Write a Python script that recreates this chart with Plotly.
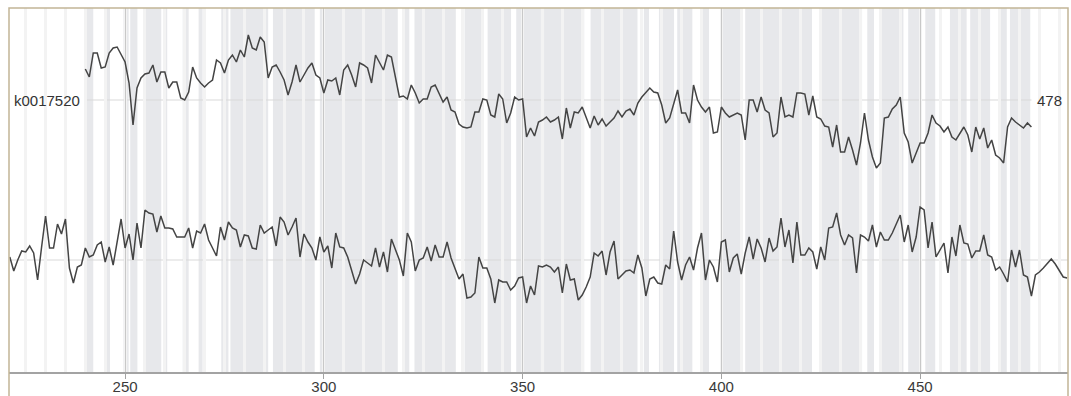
import plotly.graph_objects as go

# ---- data ----
top_start = 240
top_vals = [
    31, 23, 47, 47, 32, 33, 47, 52, 53, 45,
    38, 17, -25, 12, 22, 26, 27, 35, 18, 28,
    28, 12, 18, 18, 2, 0, 8, 33, 22, 17,
    13, 17, 20, 40, 37, 27, 40, 45, 38, 50,
    43, 65, 52, 50, 63, 58, 22, 33, 35, 28,
    20, 5, 18, 35, 18, 25, 32, 37, 25, 22,
    7, 20, 19, 22, 5, 30, 35, 25, 13, 37,
    35, 32, 17, 45, 37, 30, 45, 43, 23, 3,
    4, 1, 15, 7, -3, 1, 1, 13, 15, 7,
    -2, 3, -10, -12, -24, -27, -28, -27, -12, -12,
    1, 0, -15, -17, 6, 1, -23, -13, 3, 0,
    1, -37, -28, -36, -22, -20, -17, -22, -20, -17,
    -39, -8, -28, -12, -13, -7, -18, -28, -16, -25,
    -19, -26, -22, -18, -11, -17, -11, -9, -15, -3,
    3, 8, 12, 8, 7, -5, -23, -18, -3, 10,
    -13, -13, -23, 15, 0, -7, -12, -7, -33, -32,
    -7, -13, -17, -15, -13, -15, -40, 0, 0, -12,
    3, -10, -13, -37, -33, 3, -17, -15, -17, 7,
    7, 6, -15, 4, -17, -19, -26, -27, -47, -25,
    -52, -52, -37, -50, -65, -43, -13, -40, -57, -68,
    -63, -18, -17, -9, -5, 3, -33, -42, -63, -53,
    -43, -43, -33, -15, -23, -26, -32, -27, -37, -40,
    -33, -27, -35, -52, -27, -39, -28, -48, -40, -55,
    -58, -63, -27, -18, -22, -25, -28, -23, -27,
]

bottom_start = 221
bottom_vals = [
    3, -11, 0, 9, 8, 14, 7, -20, 13, 44,
    12, 12, 36, 26, 41, -8, -23, -7, -5, 12,
    3, 5, 15, 18, -2, 13, -5, 18, 41, 12,
    26, 0, 37, 12, 50, 47, 46, 28, 44, 32,
    32, 31, 23, 23, 23, 32, 12, 29, 27, 36,
    20, 12, 4, 33, 20, 38, 32, 30, 13, 25,
    24, 12, 11, 35, 27, 30, 33, 14, 43, 38,
    25, 33, 42, 3, 26, 18, 12, 0, 23, 8,
    14, -8, 27, 13, 12, 3, -10, -24, -14, 0,
    -3, -6, 12, -7, 8, -12, 21, 10, 0, -16,
    27, 18, -11, 0, 2, 13, -1, 15, 3, 3,
    18, 2, -8, -19, -14, -38, -37, -33, 3, -8,
    -8, -19, -43, -20, -22, -22, -30, -26, -18, -17,
    -43, -26, -35, -6, -7, -5, -7, -12, -7, -33,
    -4, -20, -19, -40, -35, -27, -17, 7, 4, 9,
    -15, 8, 19, -19, -15, -11, -10, -13, 5, -8,
    -36, -19, -17, -23, -24, -5, -9, 29, -2, -20,
    -5, 3, -10, 12, 27, -20, 0, -7, -22, 18,
    20, -12, 2, 6, -14, 7, 23, 1, 21, 12,
    -2, 22, 9, 13, 42, 13, 30, -3, 38, 5,
    5, 12, 8, -9, 13, 0, 32, 33, 47, 25,
    15, 25, 22, -13, 25, 23, 19, 35, 13, 28,
    20, 20, 27, 37, 45, 18, 35, 8, 23, 53,
    50, 12, 38, 3, 10, 17, -13, 23, 4, 35,
    17, 16, 2, 9, 9, 25, 5, 3, -10, -7,
    -14, -22, 10, -7, 10, -15, -17, -36, -15, -12,
    -8, -4, 1, -4, -10, -17, -18,
]

band_starts = [240.0, 245.2, 249.6, 251.3, 254.6, 260.1, 264.5, 268.5, 274.2, 276.5,
               287.2, 299.0, 310.2, 319.9, 322.8, 335.4, 341.2, 348.4, 355.4, 367.1,
               380.5, 384.3, 388.9, 394.8, 400.2, 406.0, 424.9, 436.7, 440.0, 447.0,
               451.3, 457.5, 462.6, 470.1, 472.6]
band_ends = [242.0, 246.2, 250.9, 253.1, 259.1, 260.6, 266.0, 269.5, 276.0, 286.0,
             297.7, 309.8, 318.6, 321.5, 333.2, 339.6, 347.1, 354.6, 365.5, 378.9,
             381.8, 388.1, 392.7, 396.9, 405.2, 422.8, 435.4, 438.4, 445.8, 450.0,
             453.8, 461.7, 467.6, 471.8, 477.7]

top_label = "k0017520"
tick_vals = [250, 300, 350, 400, 450]
x_range = [220.8, 487.2]

# ---- layout constants ----
TOP_BASE = 272
BOT_BASE = 112
LINE_COLOR = "#444444"
BAND_COLOR = "#e7e8eb"
FONT = "Liberation Sans, Arial, sans-serif"

top_x = list(range(top_start, top_start + len(top_vals)))
bottom_x = list(range(bottom_start, bottom_start + len(bottom_vals)))
end_label = str(top_x[-1])

fig = go.Figure()

shapes = []
for s, e in zip(band_starts, band_ends):
    shapes.append(dict(type="rect", xref="x", yref="paper", x0=s, x1=e, y0=0, y1=1,
                       fillcolor=BAND_COLOR, line=dict(width=0), layer="below"))
# reference lines
shapes.append(dict(type="line", xref="x", yref="y", x0=top_x[0], x1=top_x[-1],
                   y0=TOP_BASE, y1=TOP_BASE, line=dict(color="#d9d9d9", width=1), layer="below"))
shapes.append(dict(type="line", xref="paper", yref="y", x0=0, x1=1,
                   y0=BOT_BASE, y1=BOT_BASE, line=dict(color="#d9d9d9", width=1), layer="below"))
# frame
shapes.append(dict(type="path", xref="paper", yref="paper",
                   path="M 0,-0.07 L 0,1 L 1,1 L 1,-0.07",
                   line=dict(color="#c2b596", width=1.5), layer="above"))

fig.add_trace(go.Scatter(x=top_x, y=[TOP_BASE + v for v in top_vals], mode="lines",
                         line=dict(color=LINE_COLOR, width=1.5), hoverinfo="skip"))
fig.add_trace(go.Scatter(x=bottom_x, y=[BOT_BASE + v for v in bottom_vals], mode="lines",
                         line=dict(color=LINE_COLOR, width=1.5), hoverinfo="skip"))

fig.add_annotation(x=top_x[0] - 0.9, y=TOP_BASE, xref="x", yref="y", text=top_label,
                   showarrow=False, xanchor="right", yanchor="middle",
                   font=dict(family=FONT, size=15, color="#333333"))
fig.add_annotation(x=top_x[-1] + 0.9, y=TOP_BASE, xref="x", yref="y", text=end_label,
                   showarrow=False, xanchor="left", yanchor="middle",
                   font=dict(family=FONT, size=15, color="#333333"))

fig.update_layout(
    width=1071, height=396,
    margin=dict(l=9, r=3, t=8, b=24, autoexpand=False),
    paper_bgcolor="white", plot_bgcolor="white",
    showlegend=False,
    shapes=shapes,
    xaxis=dict(range=x_range, tickvals=tick_vals, showgrid=True, gridcolor="#c8c8c8",
               gridwidth=1, zeroline=False, showline=True, linecolor="#a3a3a3",
               linewidth=2, ticks="outside", ticklen=5, tickcolor="#a3a3a3",
               ticklabelstandoff=-5, automargin=False,
               tickfont=dict(family=FONT, size=15, color="#3a3a3a"),
               minor=dict(dtick=5, tick0=0, showgrid=True, gridcolor="#f3f3f3",
                          gridwidth=2.5, ticks=""),
               fixedrange=True),
    yaxis=dict(range=[0, 364], visible=False, fixedrange=True, automargin=False),
)

fig.write_html("out.html", config={"displayModeBar": False},
               post_script="document.body.style.margin='0';document.body.style.padding='0';"
                           "document.body.style.overflow='hidden';")
